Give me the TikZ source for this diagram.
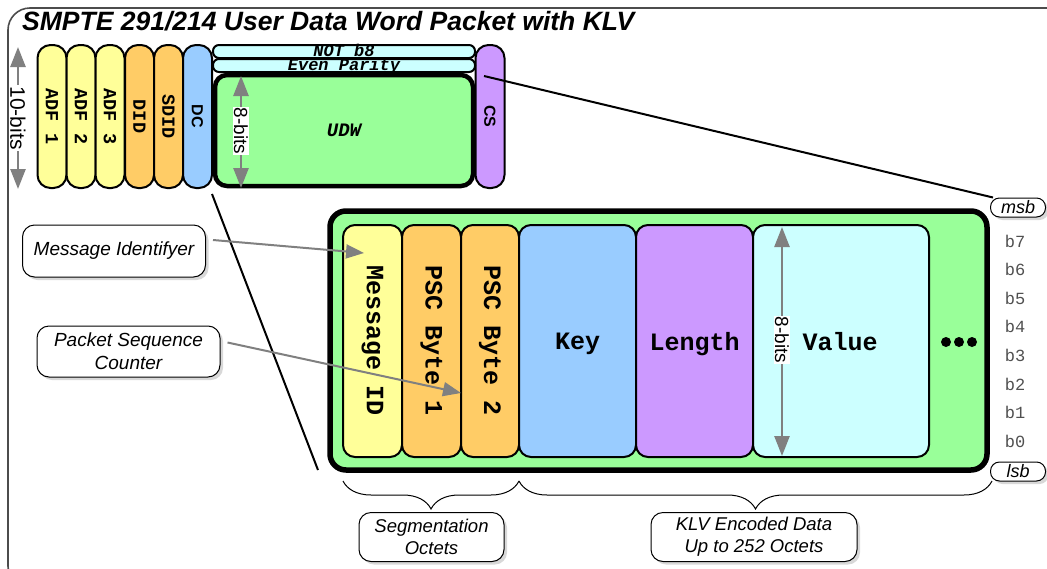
\documentclass[tikz,border=0pt]{standalone}
\usepackage{fontspec}
\setmainfont{Liberation Sans}
\setmonofont{Liberation Mono}
\usetikzlibrary{arrows.meta,shadows,decorations.pathreplacing}

\definecolor{cYellow}{HTML}{FFFF99}
\definecolor{cOrange}{HTML}{FFCC66}
\definecolor{cBlue}{HTML}{99CCFF}
\definecolor{cPurple}{HTML}{CC99FF}
\definecolor{cCyan}{HTML}{CCFFFF}
\definecolor{cGreen}{HTML}{99FF99}
\definecolor{cGray}{HTML}{808080}
\definecolor{cBit}{HTML}{505050}

\newcommand\fsz[2]{\fontsize{#1}{#2}\selectfont}

\begin{document}
\begin{tikzpicture}[x=1pt,y=-1pt,
  frame/.style={draw=black!70, line width=1.6pt, rounded corners=22pt},
  pill/.style={draw, line width=2pt, rounded corners=13pt, minimum width=143pt,
    minimum height=29pt, inner sep=0pt, rotate=-90,
    font=\fsz{18.5}{20}\ttfamily\bfseries},
  pillsf/.style={pill, font=\fsz{16}{18}\bfseries},
  bar/.style={draw, line width=2pt, fill=cCyan, rounded corners=6pt,
    minimum width=262pt, minimum height=13pt, inner sep=0pt},
  bartext/.style={font=\fsz{17}{18}\ttfamily\bfseries\itshape, inner sep=0pt, anchor=base},
  cell/.style={draw, line width=2pt, rounded corners=12pt, minimum height=232pt,
    inner sep=0pt, font=\fsz{25}{30}\ttfamily\bfseries},
  hcell/.style={cell, text depth=0pt},
  vcell/.style={cell, rotate=-90, minimum width=232pt},
  callout/.style={draw, line width=1pt, rounded corners=12pt, fill=white,
    align=center, font=\fsz{19}{23}\itshape,
    drop shadow={shadow xshift=3pt, shadow yshift=-3pt, fill=black!30}},
  tag/.style={callout, rounded corners=9pt, minimum width=55pt, minimum height=19pt,
    inner sep=0pt, font=\fsz{18}{20}\itshape},
  dim/.style={draw=cGray, line width=2.5pt, {Triangle[length=20pt,width=15pt]}-{Triangle[length=20pt,width=15pt]}},
  dimlbl/.style={fill=white, inner sep=1pt, rotate=-90, font=\fsz{19}{20}},
  pointer/.style={draw=cGray, line width=2pt, -{Triangle[length=18pt,width=14pt]}},
  link/.style={draw=black, line width=2pt},
  bitlbl/.style={text=cBit, font=\fsz{17}{18}\ttfamily, inner sep=0pt},
  curly/.style={draw, line width=1pt, decorate,
    decoration={brace, mirror, amplitude=28pt}}
]
\useasboundingbox (0,0) rectangle (1047,568);

% surrounding frame, running off the right and bottom edges
\begin{scope}
  \clip (0,0) rectangle (1047,568);
  \draw[frame] (8,8) rectangle (1070,588);
\end{scope}

\node[anchor=base west, inner sep=0pt, font=\fsz{26.5}{30}\bfseries\itshape]
  (title) at (22,30) {SMPTE 291/214 User Data Word Packet with KLV};

% ---- ancillary packet ----
\node[pill, fill=cYellow] (adf1) at (52,116.5)  {ADF 1};
\node[pill, fill=cYellow] (adf2) at (81,116.5)  {ADF 2};
\node[pill, fill=cYellow] (adf3) at (110,116.5) {ADF 3};
\node[pill, fill=cOrange] (did)  at (139.5,116.5) {DID};
\node[pill, fill=cOrange] (sdid) at (168.5,116.5) {SDID};
\node[pillsf, fill=cBlue] (dc)   at (197.5,116.5) {DC};
\node[pillsf, fill=cPurple] (cs) at (490,116.5) {CS};

\node[bar] (notb8) at (344,51.5) {};
\node[bar] (parity) at (344,65.5) {};
\node[bartext] (notb8txt) at (344,56.3) {NOT b8};
\node[bartext] (paritytxt) at (344,70.8) {Even Parity};

\node[draw, line width=4.5pt, fill=cGreen, rounded corners=12pt,
  minimum width=258pt, minimum height=111pt, inner sep=0pt,
  font=\fsz{19}{20}\ttfamily\bfseries\itshape] (udw) at (344,130.5) {UDW};

% bit-width marks of the packet
\coordinate (ten-top) at (18,47);
\coordinate (ten-bot) at (18,189);
\draw[dim] (ten-top) -- (ten-bot);
\node[dimlbl, font=\fsz{21}{22}] (tenlbl) at (18,118) {10-bits};

\coordinate (udw-top) at (241,76);
\coordinate (udw-bot) at (241,188);
\draw[dim] (udw-top) -- (udw-bot);
\node[dimlbl] (udwlbl) at (241,131) {8-bits};

% ---- expanded user data words ----
\node[draw, line width=5.5pt, fill=cGreen, rounded corners=16pt,
  minimum width=657pt, minimum height=259pt, inner sep=0pt] (udwbig) at (658.5,340.5) {};

\node[vcell, fill=cYellow, minimum height=59pt] (msgid) at (372.5,341) {Message ID};
\node[vcell, fill=cOrange, minimum height=59pt] (psc1)  at (431.5,341) {PSC Byte 1};
\node[vcell, fill=cOrange, minimum height=58pt] (psc2)  at (490,341)   {PSC Byte 2};
\node[hcell, fill=cBlue,   minimum width=117pt] (key)    at (577.5,341) {Key};
\node[hcell, fill=cPurple, minimum width=117pt] (length) at (694.5,341) {Length};
\node[hcell, fill=cCyan,   minimum width=176pt] (value)  at (841,341)   {};
\node[font=\fsz{25}{30}\ttfamily\bfseries, inner sep=0pt, text depth=0pt]
  (valtxt) at (840,341) {Value};

\foreach \dx [count=\k] in {946,959,972}
  \fill (\dx,342) circle (5pt) coordinate (dot\k);

\coordinate (val-top) at (782,227);
\coordinate (val-bot) at (782,456);
\draw[dim] (val-top) -- (val-bot);
\node[dimlbl] (vallbl) at (782,340) {8-bits};

% bit numbering
\node[tag] (msb) at (1018,207.5) {msb};
\node[tag] (lsb) at (1018,471.5) {lsb};
\foreach \b [count=\i from 0] in {7,6,5,4,3,2,1,0}
  \node[bitlbl] (bit\b) at (1015,{241+28.6*\i}) {b\b};

% zoom lines from the packet to the expanded view
\coordinate (cs-pt) at (484,76);
\draw[link] (cs-pt) -- ([xshift=3pt]msb.north west);
\coordinate (dc-pt) at (212,194);
\coordinate (big-pt) at (318,470);
\draw[link] (dc-pt) -- (big-pt);

% callouts
\node[callout, minimum width=183pt, minimum height=52pt] (msgidf) at (114,251)
  {Message Identifyer};
\node[callout, minimum width=183pt, minimum height=51pt] (pscc) at (128.5,351.5)
  {Packet Sequence\\Counter};
\coordinate (msgid-tip) at (364,253);
\coordinate (psc-tip) at (461,393);
\draw[pointer] ([shift={(7,-11)}]msgidf.east) -- (msgid-tip);
\draw[pointer] ([shift={(7,-9)}]pscc.east) -- (psc-tip);

% groupings
\coordinate (seg-start) at (343,481);
\coordinate (seg-end) at (519,481);
\coordinate (klv-end) at (992,481);
\draw[curly] (seg-start) -- (seg-end);
\draw[curly] (seg-end) -- (klv-end);
\node[callout, minimum width=145pt, minimum height=49pt, font=\fsz{18.5}{22}\itshape]
  (seglbl) at (431.5,537) {Segmentation\\Octets};
\node[callout, minimum width=206pt, minimum height=49pt, font=\fsz{18.5}{22}\itshape]
  (klvlbl) at (754,537) {KLV Encoded Data\\Up to 252 Octets};
\end{tikzpicture}
\end{document}
